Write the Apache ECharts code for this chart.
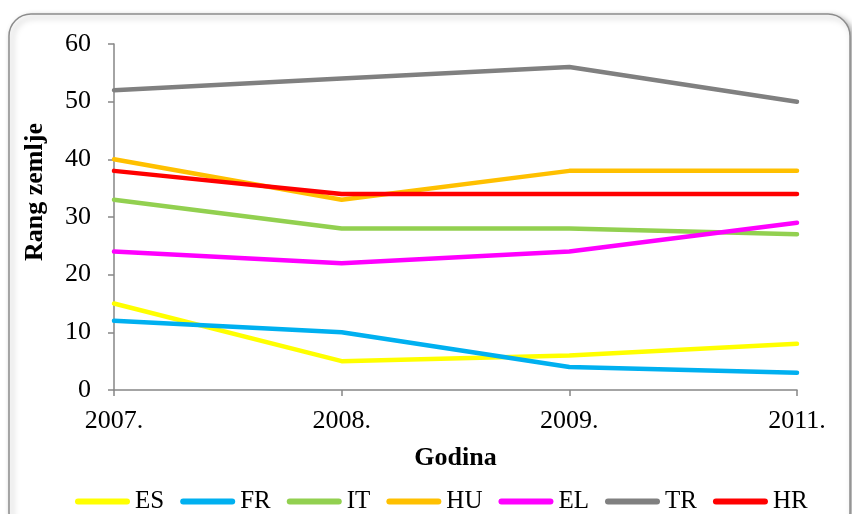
<!DOCTYPE html>
<html>
<head>
<meta charset="utf-8">
<script src="https://cdn.jsdelivr.net/npm/echarts/dist/echarts.min.js"></script>
<style>
  html, body { margin: 0; padding: 0; background: #fff; }
  #chart { width: 852px; height: 514px; }
</style>
</head>
<body>
<div id="chart"></div>
<script>
// Rang zemlje po godinama
const years = ['2007.', '2008.', '2009.', '2011.'];
const countries = ['ES', 'FR', 'IT', 'HU', 'EL', 'TR', 'HR'];
const colors = ['#FFFF00', '#00B0F0', '#92D050', '#FFC000', '#FF00FF', '#808080', '#FF0000'];

const ES = [15, 5, 6, 8];
const FR = [12, 10, 4, 3];
const IT = [33, 28, 28, 27];
const HU = [40, 33, 38, 38];
const EL = [24, 22, 24, 29];
const TR = [52, 54, 56, 50];
const HR = [38, 34, 34, 34];

const yTicks = [0, 10, 20, 30, 40, 50, 60];

const values = [ES, FR, IT, HU, EL, TR, HR];
const font = '"Liberation Serif", "Times New Roman", serif';
const axisGray = '#868686';

const chart = echarts.init(document.getElementById('chart'), null, { renderer: 'canvas' });

chart.setOption({
  animation: false,
  backgroundColor: '#fff',
  textStyle: { fontFamily: font, color: '#000' },
  graphic: [
    {
      // rounded chart frame with a soft drop shadow
      type: 'rect',
      z: -10,
      shape: { x: 9, y: 14, width: 841, height: 520, r: 22 },
      style: {
        fill: '#fff',
        stroke: '#8c8c8c',
        lineWidth: 1.5,
        shadowBlur: 6,
        shadowOffsetX: 3,
        shadowOffsetY: 3,
        shadowColor: 'rgba(0,0,0,0.35)'
      }
    },
    {
      // y-axis title, reading bottom-to-top
      type: 'text',
      x: 35,
      y: 192,
      rotation: Math.PI / 2,
      style: {
        text: 'Rang zemlje',
        font: 'bold 26px ' + font,
        fill: '#000',
        align: 'center',
        verticalAlign: 'middle'
      }
    }
  ],
  grid: { left: 114, right: 55, top: 44, bottom: 124 },
  legend: {
    left: 70,
    top: 484,
    itemWidth: 55,
    itemHeight: 7,
    itemGap: 16,
    icon: 'path://M3,0 L52,0 A3,3 0 0 1 52,6 L3,6 A3,3 0 0 1 3,0 Z',
    textStyle: { fontFamily: font, fontSize: 25, color: '#000' },
    data: countries
  },
  xAxis: {
    type: 'category',
    data: years,
    boundaryGap: false,
    name: 'Godina',
    nameLocation: 'middle',
    nameGap: 55,
    nameTextStyle: { fontFamily: font, fontSize: 26, fontWeight: 'bold', color: '#000' },
    axisLine: { lineStyle: { color: axisGray, width: 1.5 } },
    axisTick: { alignWithLabel: true, length: 6, lineStyle: { color: axisGray, width: 1.5 } },
    axisLabel: { fontFamily: font, fontSize: 26, color: '#000', margin: 18 },
    splitLine: { show: false }
  },
  yAxis: {
    type: 'value',
    min: yTicks[0],
    max: yTicks[yTicks.length - 1],
    interval: 10,
    axisLine: { show: true, lineStyle: { color: axisGray, width: 1.5 } },
    axisTick: { show: true, length: 6, lineStyle: { color: axisGray, width: 1.5 } },
    axisLabel: { fontFamily: font, fontSize: 26, color: '#000', margin: 23 },
    splitLine: { show: false }
  },
  series: countries.map((name, i) => ({
    name: name,
    type: 'line',
    data: values[i],
    symbol: 'none',
    color: colors[i],
    lineStyle: { width: 4.5, color: colors[i], cap: 'round', join: 'round' }
  }))
});
</script>
</body>
</html>
